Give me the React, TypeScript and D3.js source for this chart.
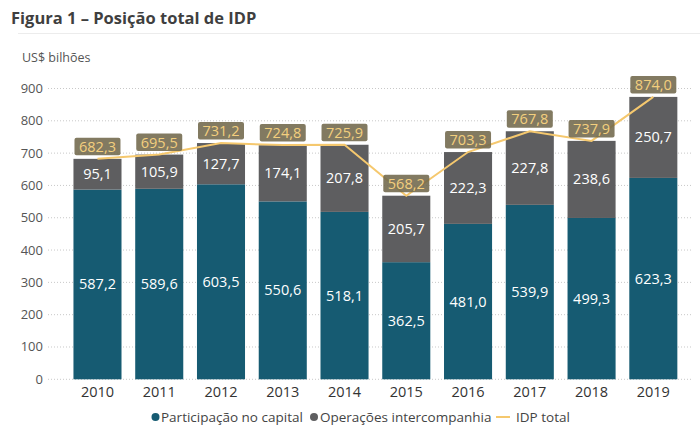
import React from "react";
import * as d3 from "d3";

const years = ["2010", "2011", "2012", "2013", "2014", "2015", "2016", "2017", "2018", "2019"];
const participacao = [587.2, 589.6, 603.5, 550.6, 518.1, 362.5, 481.0, 539.9, 499.3, 623.3];
const operacoes = [95.1, 105.9, 127.7, 174.1, 207.8, 205.7, 222.3, 227.8, 238.6, 250.7];
const idpTotal = [682.3, 695.5, 731.2, 724.8, 725.9, 568.2, 703.3, 767.8, 737.9, 874.0];
const yTicks = [0, 100, 200, 300, 400, 500, 600, 700, 800, 900];

const W = 700;
const H = 435;
const FONT = "'Open Sans', 'Noto Sans', sans-serif";
const C_TEAL = "#165b72";
const C_GRAY = "#5e5e60";
const C_LINE = "#f5c86e";
const fmt = (v: number) => v.toFixed(1).replace(".", ",");

export default function App() {
  const x = d3.scaleBand<string>().domain(years).range([66.6, 684.2]).paddingInner(0.222).paddingOuter(0.111);
  const y = d3.scaleLinear().domain([0, 900]).range([379.3, 88.5]);
  const bw = x.bandwidth();
  const cx = (yr: string) => (x(yr) as number) + bw / 2;
  const line = d3
    .line<number>()
    .x((_, i) => cx(years[i]))
    .y((d) => y(d));

  return (
    <svg width={W} height={H} style={{ position: "absolute", left: 0, top: 0, background: "#fff" }} fontFamily={FONT}>
      <text x={11} y={24} fontSize={16.5} fontWeight={700} fill="#3f3f3f">
        Figura 1 – Posição total de IDP
      </text>
      <line x1={18} x2={700} y1={33.5} y2={33.5} stroke="#ececec" strokeWidth={1} />
      <text x={22} y={62} fontSize={12.5} fill="#555">
        US$ bilhões
      </text>
      {yTicks.map((t) => (
        <g key={t}>
          <line x1={48} x2={692} y1={y(t)} y2={y(t)} stroke="#c8c8c8" strokeWidth={1} strokeDasharray="1,2" />
          <text x={43} y={y(t) + 4.5} fontSize={13} fill="#555" textAnchor="end">
            {t}
          </text>
        </g>
      ))}
      {years.map((yr, i) => {
        const x0 = x(yr) as number;
        const p = participacao[i];
        const o = operacoes[i];
        return (
          <g key={yr}>
            <rect x={x0} y={y(p)} width={bw} height={y(0) - y(p)} fill={C_TEAL} />
            <rect x={x0} y={y(p + o)} width={bw} height={y(p) - y(p + o)} fill={C_GRAY} />
            <text x={cx(yr)} y={(y(0) + y(p)) / 2 + 5} fontSize={14.5} fill="#fff" textAnchor="middle">
              {fmt(p)}
            </text>
            <text x={cx(yr)} y={(y(p) + y(p + o)) / 2 + 5} fontSize={14.5} fill="#fff" textAnchor="middle">
              {fmt(o)}
            </text>
            <text x={cx(yr)} y={397} fontSize={14.5} fill="#333" textAnchor="middle">
              {yr}
            </text>
          </g>
        );
      })}
      <path d={line(idpTotal) || ""} fill="none" stroke={C_LINE} strokeWidth={2} />
      {years.map((yr, i) => {
        const ty = y(idpTotal[i]);
        return (
          <g key={"l" + yr}>
            <rect x={cx(yr) - 23} y={ty - 21} width={46} height={17.5} rx={2} fill="#71684b" fillOpacity={0.88} />
            <text x={cx(yr)} y={ty - 7} fontSize={14.5} fill="#f3cf7e" textAnchor="middle">
              {fmt(idpTotal[i])}
            </text>
          </g>
        );
      })}
      <g fontSize={13.5} fill="#444">
        <circle cx={155.5} cy={417} r={4} fill={C_TEAL} />
        <text x={161} y={421.5}>Participação no capital</text>
        <circle cx={314} cy={417} r={4} fill={C_GRAY} />
        <text x={320} y={421.5}>Operações intercompanhia</text>
        <line x1={496} x2={510} y1={417} y2={417} stroke={C_LINE} strokeWidth={2} />
        <text x={516} y={421.5}>IDP total</text>
      </g>
    </svg>
  );
}
